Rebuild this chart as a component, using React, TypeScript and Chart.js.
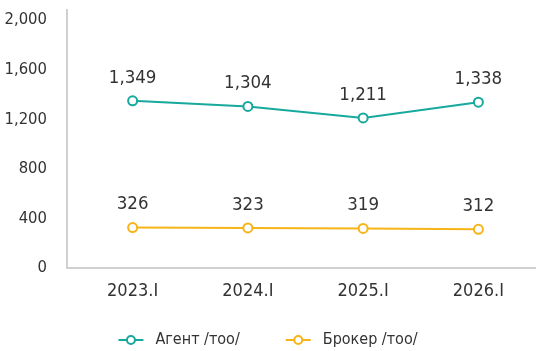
import React, { useEffect, useRef } from "react";
import { Chart, registerables } from "chart.js";

Chart.register(...registerables);

const categories = ["2023.I", "2024.I", "2025.I", "2026.I"];
const agentValues = [1349, 1304, 1211, 1338];
const brokerValues = [326, 323, 319, 312];
const yTicks = [0, 400, 800, 1200, 1600, 2000];
const yMax = 2090;
const seriesNames = ["Агент /тоо/", "Брокер /тоо/"];

const AGENT_COLOR = "#17a99d";
const BROKER_COLOR = "#f7b419";
const TEXT_COLOR = "#333333";
const AXIS_COLOR = "#d0d0d2";
const FONT = "'DejaVu Sans Condensed', 'Liberation Sans', sans-serif";
const AXIS_GAP = 8; // the value axis sits a little left of the first category band

const fmt = (v: number) => v.toLocaleString("en-US");

// L-shaped axis frame: vertical line left of the plot, horizontal line along zero
const axisFrame = {
  id: "axisFrame",
  beforeDatasetsDraw(chart: any) {
    const { ctx, chartArea } = chart;
    const x0 = chartArea.left - AXIS_GAP;
    ctx.save();
    ctx.strokeStyle = AXIS_COLOR;
    ctx.lineWidth = 2;
    ctx.beginPath();
    ctx.moveTo(x0, chartArea.top);
    ctx.lineTo(x0, chartArea.bottom);
    ctx.lineTo(chart.width, chartArea.bottom);
    ctx.stroke();
    ctx.restore();
  },
};

// writes each point's value above it
const valueLabels = {
  id: "valueLabels",
  afterDatasetsDraw(chart: any) {
    const ctx = chart.ctx;
    ctx.save();
    ctx.font = `18.5px ${FONT}`;
    ctx.fillStyle = TEXT_COLOR;
    ctx.textAlign = "center";
    ctx.textBaseline = "middle";
    chart.data.datasets.forEach((ds: any, i: number) => {
      const meta = chart.getDatasetMeta(i);
      meta.data.forEach((pt: any, j: number) => {
        ctx.fillText(fmt(ds.data[j]), pt.x, pt.y - 23);
      });
    });
    ctx.restore();
  },
};

// centred legend under the axis: line–circle–line swatch followed by the series name
const lineLegend = {
  id: "lineLegend",
  afterDraw(chart: any) {
    const ctx = chart.ctx;
    const swatchW = 25;
    const textGap = 12;
    const itemGap = 46;
    const y = 340;
    ctx.save();
    ctx.font = `16px ${FONT}`;
    const items = chart.data.datasets.map((ds: any) => ({
      label: ds.label as string,
      color: ds.borderColor as string,
      w: ctx.measureText(ds.label).width,
    }));
    const total =
      items.reduce((s: number, it: any) => s + swatchW + textGap + it.w, 0) +
      itemGap * (items.length - 1);
    let x = (chart.width - total) / 2;
    items.forEach((it: any) => {
      ctx.strokeStyle = it.color;
      ctx.lineWidth = 2;
      ctx.beginPath();
      ctx.moveTo(x, y);
      ctx.lineTo(x + swatchW, y);
      ctx.stroke();
      ctx.fillStyle = "#ffffff";
      ctx.beginPath();
      ctx.arc(x + swatchW / 2, y, 4, 0, Math.PI * 2);
      ctx.fill();
      ctx.stroke();
      ctx.fillStyle = TEXT_COLOR;
      ctx.textAlign = "left";
      ctx.textBaseline = "middle";
      ctx.fillText(it.label, x + swatchW + textGap, y);
      x += swatchW + textGap + it.w + itemGap;
    });
    ctx.restore();
  },
};

export default function App() {
  const ref = useRef<HTMLCanvasElement>(null);

  useEffect(() => {
    const series = (label: string, data: number[], color: string) => ({
      label,
      data,
      borderColor: color,
      backgroundColor: "#ffffff",
      borderWidth: 2,
      pointRadius: 4.5,
      pointBorderWidth: 2,
      pointBackgroundColor: "#ffffff",
      pointBorderColor: color,
      tension: 0,
    });
    const chart = new Chart(ref.current!, {
      type: "line",
      data: {
        labels: categories,
        datasets: [
          series(seriesNames[0], agentValues, AGENT_COLOR),
          series(seriesNames[1], brokerValues, BROKER_COLOR),
        ],
      },
      options: {
        animation: false,
        responsive: false,
        maintainAspectRatio: false,
        layout: { autoPadding: false, padding: { top: 9, right: -3, left: 0, bottom: 40 } },
        scales: {
          x: {
            offset: true,
            afterFit: (scale: any) => {
              scale.paddingLeft = 0;
              scale.paddingRight = 0;
              scale.height = 43;
            },
            grid: { display: false, drawTicks: false },
            border: { display: false },
            ticks: {
              color: TEXT_COLOR,
              font: { family: FONT, size: 18 },
              padding: 13,
              maxRotation: 0,
            },
          },
          y: {
            min: 0,
            max: yMax,
            afterBuildTicks: (scale: any) => {
              scale.ticks = yTicks.map((v) => ({ value: v }));
            },
            afterFit: (scale: any) => {
              scale.width = 67 + AXIS_GAP;
              scale.paddingTop = 0;
              scale.paddingBottom = 0;
            },
            grid: { display: false, drawTicks: false },
            border: { display: false },
            ticks: {
              color: TEXT_COLOR,
              font: { family: FONT, size: 16.5 },
              padding: 20 + AXIS_GAP,
              callback: (v: any) => fmt(Number(v)),
            },
          },
        },
        plugins: {
          legend: { display: false },
          tooltip: { enabled: false },
        },
      },
      plugins: [axisFrame, valueLabels, lineLegend],
    });
    return () => chart.destroy();
  }, []);

  return (
    <div style={{ position: "fixed", left: 0, top: 0, width: 536, height: 351, background: "#fff" }}>
      <canvas ref={ref} width={536} height={351} style={{ display: "block" }} />
    </div>
  );
}
